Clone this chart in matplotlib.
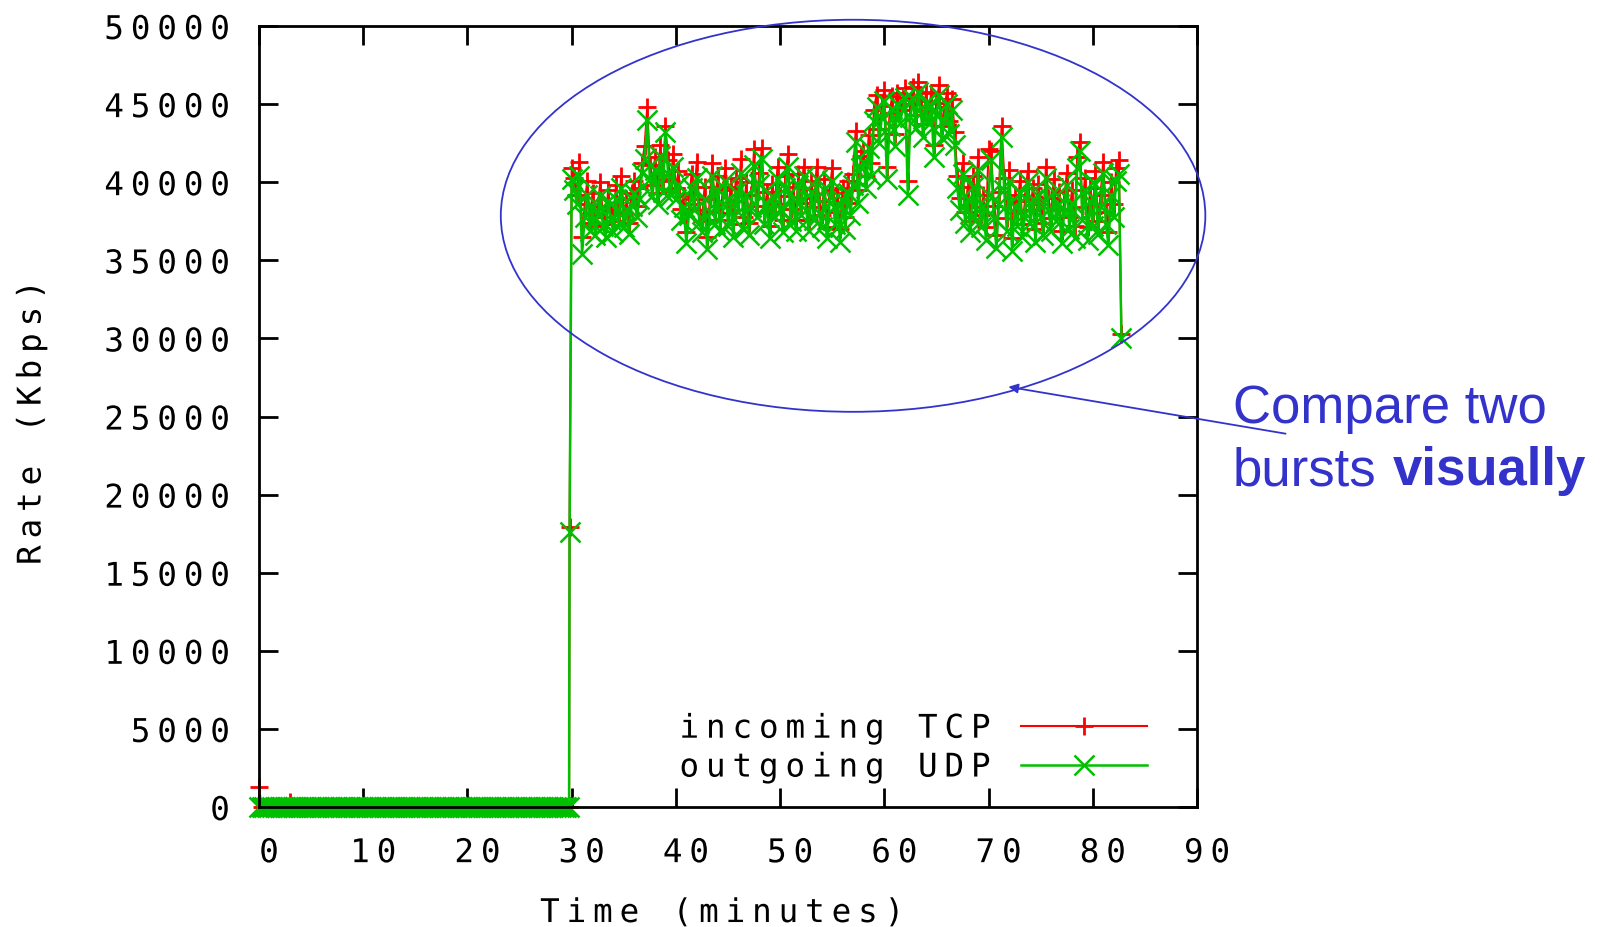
import numpy as np
import matplotlib
matplotlib.use("Agg")
import matplotlib.pyplot as plt
import matplotlib.patheffects as pe
from matplotlib.path import Path
from matplotlib.patches import Ellipse
from matplotlib.transforms import ScaledTranslation

# sampling every 15 s, rates in thousands of Kbps
step = 0.25
idle_end = 29.75
tcp_idle_spikes = {0.0: 1.3, 3.0: 0.3}

# the flow starts between two samples
ramp_t = 29.8
tcp_ramp = 17.9
udp_ramp = 17.6

busy_start = 30.0
tcp_busy = [
    40.9, 40.3, 39.2, 41.3, 36.5, 38.6, 40.1, 37.4,
    39.3, 37.2, 38.5, 40.0, 37.8, 37.3, 39.5, 38.2,
    37.5, 39.8, 38.1, 40.4, 37.9, 38.9, 37.4, 39.3,
    40.1, 38.5, 39.6, 41.2, 42.3, 44.8, 41.1, 39.8,
    41.6, 39.3, 42.4, 40.2, 43.6, 41.4, 40.1, 41.8,
    39.6, 40.7, 38.3, 39.1, 36.8, 38.6, 40.5, 38.9,
    41.3, 38.2, 37.5, 39.7, 36.5, 38.9, 41.2, 38.1,
    40.4, 37.6, 39.5, 40.9, 38.0, 39.7, 37.3, 40.3,
    38.8, 41.5, 37.8, 40.0, 37.4, 39.2, 42.1, 38.5,
    40.6, 42.2, 38.1, 39.4, 37.2, 39.9, 38.6, 41.0,
    39.1, 37.6, 40.4, 41.8, 38.3, 39.7, 37.6, 40.5,
    38.7, 41.0, 39.0, 37.6, 40.1, 38.4, 41.0, 38.8,
    37.9, 40.2, 37.1, 39.5, 40.9, 38.1, 39.3, 37.0,
    39.6, 37.8, 40.1, 38.7, 40.5, 43.3, 39.5, 41.7,
    42.0, 40.4, 43.0, 41.2, 44.6, 45.6, 43.4, 44.9,
    45.9, 41.0, 44.4, 45.5, 43.1, 45.7, 44.6, 45.4,
    46.0, 40.1, 45.0, 46.1, 44.3, 46.4, 45.2, 43.7,
    45.8, 44.5, 45.7, 42.4, 45.1, 46.2, 43.6, 44.8,
    45.7, 43.9, 45.3, 43.2, 40.4, 39.0, 41.2, 38.1,
    39.7, 37.5, 40.4, 38.4, 41.6, 37.9, 39.2, 37.1,
    42.1, 42.0, 38.5, 36.6, 39.4, 43.6, 40.3, 37.7,
    40.8, 36.4, 39.2, 38.0, 40.1, 37.3, 38.8, 40.7,
    38.2, 39.6, 37.0, 39.9, 38.6, 37.4, 41.0, 39.0,
    37.7, 40.2, 38.3, 39.4, 36.9, 38.8, 40.6, 37.8,
    39.5, 37.2, 41.6, 42.6, 38.4, 40.3, 37.1, 39.6,
    38.0, 40.7, 37.5, 39.2, 41.3, 38.1, 36.8, 40.0,
    38.6, 40.9, 41.4, 30.3,
]
udp_busy = [
    40.2, 39.5, 38.6, 40.4, 35.4, 37.8, 39.2, 36.9,
    38.4, 36.6, 37.9, 39.1, 37.2, 36.5, 38.8, 37.6,
    36.8, 38.9, 37.4, 39.6, 37.1, 38.2, 36.7, 38.5,
    39.3, 37.8, 38.9, 40.6, 41.5, 44.0, 40.2, 39.1,
    40.8, 38.6, 41.7, 39.4, 43.2, 40.5, 39.2, 41.0,
    38.9, 39.8, 37.6, 38.4, 36.1, 37.9, 39.6, 38.2,
    40.3, 37.4, 36.8, 38.9, 35.7, 38.1, 40.4, 37.3,
    39.5, 36.9, 38.6, 40.1, 37.2, 38.8, 36.5, 39.4,
    38.1, 40.6, 37.0, 39.2, 36.6, 38.4, 41.1, 37.8,
    39.9, 41.5, 37.3, 38.6, 36.4, 39.1, 37.8, 40.2,
    38.3, 36.8, 39.6, 41.0, 37.5, 38.9, 36.9, 39.8,
    37.9, 40.4, 38.2, 36.9, 39.4, 37.6, 40.2, 38.0,
    37.1, 39.5, 36.4, 38.7, 40.1, 37.3, 38.6, 36.2,
    38.8, 37.0, 39.3, 37.9, 39.8, 42.6, 38.7, 40.9,
    41.3, 39.6, 42.2, 40.4, 43.9, 44.8, 42.5, 44.1,
    45.2, 40.2, 43.6, 44.7, 42.3, 45.0, 43.8, 44.6,
    45.4, 39.2, 44.2, 45.3, 43.5, 45.8, 44.4, 42.9,
    45.1, 43.7, 44.9, 41.6, 44.3, 45.6, 42.8, 44.0,
    45.0, 43.1, 44.6, 42.4, 39.6, 38.2, 40.5, 37.4,
    38.9, 36.8, 39.7, 37.6, 40.8, 37.1, 38.5, 36.3,
    39.2, 41.4, 37.7, 35.8, 38.6, 42.9, 39.5, 36.9,
    40.1, 35.6, 38.4, 37.2, 39.3, 36.5, 38.0, 40.0,
    37.4, 38.9, 36.2, 39.1, 37.8, 36.6, 40.3, 38.2,
    36.9, 39.4, 37.5, 38.6, 36.1, 38.0, 39.8, 37.0,
    38.7, 36.4, 40.9, 42.0, 37.6, 39.5, 36.3, 38.8,
    37.2, 39.9, 36.7, 38.4, 40.6, 37.3, 36.0, 39.2,
    37.8, 40.1, 40.5, 30.0,
]

xticks = np.arange(0, 91, 10)
yticks = np.arange(0, 50001, 5000)

idle_t = np.arange(0, idle_end + step / 2, step)
busy_t = busy_start + step * np.arange(len(tcp_busy))
t = np.concatenate([idle_t, [ramp_t], busy_t])
tcp = np.concatenate([[tcp_idle_spikes.get(x, 0.0) for x in idle_t],
                      [tcp_ramp], tcp_busy]) * 1000
udp = np.concatenate([np.zeros(len(idle_t)), [udp_ramp], udp_busy]) * 1000

RED = "#ff0000"
GREEN = "#00c000"
BLUE = "#3333cc"
MONO = "DejaVu Sans Mono"
ADV = 60.2  # glyph advance of the mono font in text-path units


class Tracked(pe.AbstractPathEffect):
    """Spread monospace glyphs apart, like gnuplot's wide terminal font."""

    def __init__(self, track=21.0, anchor="center"):
        super().__init__()
        self.track = track
        self.anchor = anchor

    def draw_path(self, renderer, gc, tpath, affine, rgbFace=None):
        verts = tpath.vertices.copy()
        codes = tpath.codes
        if codes is None or len(verts) == 0:
            renderer.draw_path(gc, tpath, affine, rgbFace)
            return
        starts = np.flatnonzero(codes == Path.MOVETO)
        ends = np.append(starts[1:], len(verts))
        ncell = 1
        for a, b in zip(starts, ends):
            real = codes[a:b] != Path.CLOSEPOLY
            cell = int(verts[a:b][real, 0].mean() // ADV)
            verts[a:b, 0] += cell * self.track
            ncell = max(ncell, cell + 1)
        extra = (ncell - 1) * self.track
        verts[:, 0] += {"left": 0.0, "center": -extra / 2, "right": -extra}[self.anchor]
        renderer.draw_path(gc, Path(verts, codes), affine, rgbFace)


fig = plt.figure(figsize=(16.02, 9.28), dpi=100)
ax = fig.add_axes([259 / 1602, 1 - 808 / 928, 938 / 1602, 781 / 928])

ax.plot(t, tcp, color=RED, lw=1.5, marker="+", ms=12.5, mew=2.0,
        label="incoming TCP", clip_on=False)
ax.plot(t, udp, color=GREEN, lw=1.8, marker="x", ms=14.5, mew=1.8,
        label="outgoing UDP", clip_on=False)

ax.set_xlim(0, 90)
ax.set_ylim(0, 50000)
ax.set_xticks(xticks)
ax.set_yticks(yticks)
ax.tick_params(direction="in", length=13.5, width=2, top=True, right=True,
               labelsize=23.5, pad=21)
for s in ax.spines.values():
    s.set_linewidth(2)

shift = ScaledTranslation(10 / 100, 0, fig.dpi_scale_trans)
for lab in ax.get_xticklabels():
    lab.set_fontfamily(MONO)
    lab.set_transform(lab.get_transform() + shift)
    lab.set_path_effects([Tracked(anchor="center")])
for lab in ax.get_yticklabels():
    lab.set_fontfamily(MONO)
    lab.set_path_effects([Tracked(anchor="right")])

ax.set_xlabel("Time (minutes)", family=MONO, fontsize=23.5,
              path_effects=[Tracked(anchor="center")])
ax.xaxis.set_label_coords(0.4936, -0.114)
ax.set_ylabel("Rate (Kbps)", family=MONO, fontsize=23.5, va="center",
              path_effects=[Tracked(anchor="center")])
ax.yaxis.set_label_coords(-0.243, 0.492)

leg = ax.legend(loc="lower right", bbox_to_anchor=(0.9467, 0.03),
                frameon=False, markerfirst=False, numpoints=1,
                prop={"family": MONO, "size": 23.5}, handlelength=3.85,
                handletextpad=0.95, labelspacing=0.18, borderpad=0,
                borderaxespad=0)
for txt in leg.get_texts():
    txt.set_path_effects([Tracked(anchor="right")])

# highlight of the burst
ax.add_patch(Ellipse((57.0, 37850), 67.6, 25100, fill=False, ec=BLUE,
                     lw=1.3, clip_on=False, zorder=5))
ax.annotate("", xy=(71.9, 26900), xytext=(98.5, 23900),
            arrowprops=dict(arrowstyle="-|>", color=BLUE, lw=1.3,
                            mutation_scale=14, shrinkA=0, shrinkB=0),
            annotation_clip=False)

fig.text(1233 / 1602, 1 - 423 / 928, "Compare two", color=BLUE,
         family="Liberation Sans", fontsize=38, va="baseline")
fig.text(1233 / 1602, 1 - 485 / 928, "bursts", color=BLUE,
         family="Liberation Sans", fontsize=38, va="baseline")
fig.text(1393 / 1602, 1 - 485 / 928, "visually", color=BLUE,
         family="Liberation Sans", fontsize=38, fontweight="bold",
         va="baseline")

fig.savefig("out.png", dpi=100)
